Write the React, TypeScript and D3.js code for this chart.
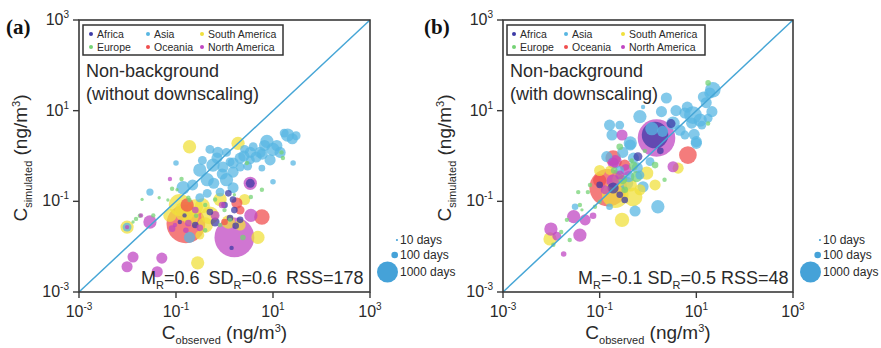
import React from "react";
import * as d3 from "d3";

// ---------- data ----------
const REGIONS = ["Africa", "Asia", "South America", "Europe", "Oceania", "North America"];
const REGION_COLORS = ["#3d3aa6", "#58b6e2", "#f0e03c", "#74d274", "#f04e4e", "#c046c2"];

const TICK_VALUES = [1e-3, 1e-1, 1e1, 1e3];
const TICK_EXPONENTS = ["-3", "-1", "1", "3"];

const SIZE_LEGEND_DAYS = [10, 100, 1000];
const SIZE_LEGEND_LABELS = ["10 days", "100 days", "1000 days"];

// [observed, simulated, days]
const aAfrica = [
  [3.4, 0.25, 180], [1.4, 0.0094, 44], [1.3, 0.043, 100], [0.64, 0.035, 180], [1.0, 0.083, 100],
  [2.1, 0.039, 100], [0.15, 0.049, 44], [0.25, 0.03, 100], [0.5, 0.058, 100], [1.7, 0.029, 100],
  [1.2, 0.15, 100], [1.6, 0.064, 100], [1.5, 0.11, 100], [0.12, 0.035, 44],
];
const aAsia = [
  [20, 2.9, 400], [25, 2.4, 280], [17, 3.2, 180], [7.5, 2.1, 400], [10, 1.4, 400], [5.4, 1.2, 280],
  [14, 1.2, 280], [8.7, 0.82, 280], [3.4, 1.2, 280], [2.1, 0.9, 280], [1.5, 0.7, 280], [1.1, 1.2, 180],
  [0.93, 0.57, 280], [3.9, 1.6, 180], [0.73, 1.2, 280], [0.5, 1.4, 180], [0.31, 0.49, 400],
  [0.58, 0.63, 400], [1.3, 0.74, 180], [1.5, 0.44, 280], [2.1, 0.57, 180], [3.4, 0.82, 180],
  [0.14, 0.2, 400], [0.44, 0.3, 400], [0.22, 0.23, 280], [1.1, 0.3, 400], [1.5, 0.2, 280],
  [0.029, 0.16, 120], [0.1, 0.7, 70], [26, 0.7, 70], [10, 0.27, 70], [0.19, 0.016, 280],
  [0.44, 0.15, 180], [0.81, 0.16, 180], [0.31, 0.12, 180], [5.9, 0.54, 100], [0.0098, 0.027, 180],
  [6.7, 1.7, 280], [2.6, 1.4, 180], [0.7, 0.9, 280], [2.5, 1.0, 280], [4.5, 0.95, 280],
  [6, 1.1, 280], [12, 1.7, 280], [30, 2.8, 180], [0.35, 0.8, 180], [0.9, 0.4, 280], [3, 0.6, 180],
  [0.6, 0.25, 280],
];
const aSouthAmerica = [
  [0.19, 1.6, 400], [1.9, 1.9, 400], [0.0098, 0.027, 400], [0.28, 0.0044, 400], [4.9, 0.016, 400],
  [0.12, 0.083, 1100], [0.5, 0.049, 711], [0.25, 0.075, 544], [1.2, 0.035, 400], [2.1, 0.03, 280],
  [0.81, 0.11, 400], [0.4, 0.03, 544], [0.31, 0.018, 180], [0.075, 0.049, 400], [2.6, 0.11, 280],
  [0.15, 0.06, 900], [0.2, 0.045, 600], [0.35, 0.08, 500],
];
const aEurope = [
  [0.13, 0.31, 44], [0.083, 0.19, 44], [0.02, 0.11, 25], [0.045, 0.12, 25], [0.105, 0.18, 25],
  [0.015, 0.041, 44], [0.018, 0.048, 44], [0.013, 0.035, 25], [0.034, 0.049, 44], [0.26, 0.048, 44],
  [0.4, 0.083, 44], [0.64, 0.11, 44], [1.0, 0.064, 44], [2.4, 0.016, 70], [3.5, 0.125, 44],
  [2.9, 0.7, 44], [16, 0.9, 44], [15, 1.2, 44], [5.9, 0.18, 44], [1.6, 0.14, 25], [0.81, 0.03, 44],
  [0.4, 0.023, 44], [0.068, 0.107, 25], [0.19, 0.107, 44], [1.3, 0.039, 44], [0.18, 0.12, 44],
];
const aOceania = [
  [0.16, 0.032, 3400], [0.17, 0.083, 400], [5.9, 0.045, 544], [1.8, 0.092, 280], [2.1, 0.064, 180],
  [1.0, 0.035, 100],
];
const aNorthAmerica = [
  [0.075, 0.31, 44], [0.029, 0.035, 400], [0.0098, 0.027, 44], [0.019, 0.049, 44], [0.013, 0.0059, 280],
  [0.0098, 0.0036, 280], [0.051, 0.0056, 280], [0.041, 0.0028, 280], [1.6, 0.016, 3600],
  [3.5, 0.049, 400], [0.18, 0.033, 100], [0.25, 0.064, 100], [3.4, 0.25, 400], [0.31, 0.026, 100],
  [0.89, 0.083, 100], [0.64, 0.049, 180], [0.095, 0.03, 44], [0.16, 0.023, 70], [0.083, 0.025, 100],
];

const bAfrica = [
  [0.62, 0.97, 180], [1.4, 2.9, 1600], [0.19, 0.197, 280], [3.0, 5.2, 180], [0.33, 0.107, 100],
  [1.8, 1.3, 100], [0.1, 0.23, 100], [0.26, 0.14, 100],
];
const bAsia = [
  [0.16, 4.8, 280], [0.26, 4.8, 180], [0.18, 2.9, 280], [2.4, 19, 280], [5.8, 8.9, 280], [8.0, 5.3, 280],
  [10, 1.9, 280], [12, 6.2, 400], [19, 24.5, 280], [22, 29, 544], [14, 20, 280], [16, 15, 280],
  [21, 9.5, 280], [13, 4.8, 180], [8.5, 8.0, 711], [3.3, 5.3, 400], [0.68, 7.4, 400], [1.9, 9.5, 280],
  [0.79, 12, 44], [0.43, 1.75, 280], [0.14, 0.97, 280], [1.6, 0.076, 400], [0.031, 0.076, 100],
  [0.16, 0.076, 100], [0.43, 1.94, 400], [0.36, 0.25, 400], [0.79, 0.21, 280], [0.54, 0.061, 280],
  [10, 2.07, 280], [4.6, 3.7, 280], [5.8, 2.9, 180], [1.1, 0.75, 180], [0.68, 0.38, 180],
  [0.26, 0.48, 180], [17.5, 6.8, 180], [1.2, 4, 400], [2, 3.5, 280], [3.8, 10, 280], [6.5, 12, 280],
  [9, 3, 280], [0.3, 1.2, 280], [0.5, 0.9, 280], [0.4, 0.35, 280], [0.6, 0.55, 280],
];
const bSouthAmerica = [
  [0.21, 0.14, 1600], [0.49, 0.125, 800], [0.29, 0.039, 470], [0.0094, 0.0148, 400], [4.2, 0.54, 280],
  [0.94, 0.42, 400], [0.1, 0.48, 280], [0.43, 0.23, 400], [0.68, 0.18, 280], [1.4, 0.23, 280],
  [0.16, 0.48, 180], [0.25, 0.3, 400],
];
const bEurope = [
  [17.5, 41, 70], [17.5, 5.2, 44], [0.036, 0.16, 44], [0.057, 0.16, 44], [0.039, 0.083, 44],
  [0.043, 0.065, 25], [0.021, 0.039, 44], [0.016, 0.021, 44], [0.011, 0.011, 44], [0.08, 0.076, 44],
  [0.1, 0.098, 44], [0.26, 1.6, 100], [0.58, 0.35, 280], [0.86, 1.3, 44], [1.4, 0.63, 100],
  [2.2, 0.3, 44], [0.33, 0.18, 100], [0.2, 0.48, 100], [0.063, 0.23, 44], [0.024, 0.014, 44],
  [0.46, 0.8, 44], [0.3, 0.3, 180], [0.5, 0.6, 180],
];
const bOceania = [
  [0.15, 0.2, 3200], [6.7, 1.05, 711], [0.19, 0.9, 544], [0.33, 0.63, 280], [0.1, 0.29, 400],
];
const bNorthAmerica = [
  [1.5, 2.5, 3200], [0.29, 2.9, 280], [3.3, 0.58, 280], [0.19, 0.7, 280], [0.21, 0.75, 400],
  [0.029, 0.046, 400], [0.05, 0.039, 280], [0.039, 0.018, 400], [0.0098, 0.0245, 400],
  [0.013, 0.017, 180], [0.018, 0.0069, 70], [0.073, 0.048, 100], [0.19, 0.28, 400],
  [0.13, 0.18, 180], [0.26, 0.38, 180], [0.35, 0.5, 280],
];

const statsA = ["0.6", "0.6", "178"];
const statsB = ["-0.1", "0.5", "48"];

// ---------- layout ----------
const FONT = "'Liberation Sans', Arial, sans-serif";
const TEXT = "#2a2a2a";
const Y0 = 20;
const Y1 = 292;

const PANELS = [
  {
    tag: "(a)", tagX: 6, x0: 79, x1: 370, title2: "(without downscaling)",
    data: [aAfrica, aAsia, aSouthAmerica, aEurope, aOceania, aNorthAmerica],
    stats: statsA, statsX: 141, gap: 9,
    legendBoxW: 200, legendDots: [8, 65, 119],
  },
  {
    tag: "(b)", tagX: 424, x0: 503, x1: 793, title2: "(with downscaling)",
    data: [bAfrica, bAsia, bSouthAmerica, bEurope, bOceania, bNorthAmerica],
    stats: statsB, statsX: 578, gap: 5,
    legendBoxW: 198, legendDots: [7, 59, 116],
  },
];

const rScale = d3.scaleSqrt().domain([0, 1000]).range([0, 10.5]);

function Panel({ p }: { p: any }) {
  const x = d3.scaleLog().domain([1e-3, 1e3]).range([p.x0, p.x1]);
  const y = d3.scaleLog().domain([1e-3, 1e3]).range([Y1, Y0]);
  const pts: any[] = [];
  p.data.forEach((arr: number[][], ri: number) => {
    arr.forEach((d) => pts.push({ obs: d[0], sim: d[1], days: d[2], color: REGION_COLORS[ri] }));
  });
  pts.sort((a, b) => b.days - a.days);
  const cx = (p.x0 + p.x1) / 2;
  const cy = (Y0 + Y1) / 2;
  const lx = p.x0 + 4;
  const ly = 25;
  const legendTextX = p.x1 + 30;
  const legendRows = [240, 255, 272];
  return (
    <g>
      <text x={p.tagX} y={34} fontFamily="'Liberation Serif', 'Times New Roman', serif" fontWeight="bold" fontSize={21} fill="#111">{p.tag}</text>
      <g>
        {pts.map((d, i) => (
          <circle key={i} cx={x(d.obs)} cy={y(d.sim)} r={Math.max(1.1, rScale(d.days))} fill={d.color} fillOpacity={0.74} />
        ))}
      </g>
      <line x1={x(1e-3)} y1={y(1e-3)} x2={x(1e3)} y2={y(1e3)} stroke="#46a6d6" strokeWidth={1.5} />
      <rect x={p.x0} y={Y0} width={p.x1 - p.x0} height={Y1 - Y0} fill="none" stroke="#3a3a3a" strokeWidth={1.6} />
      {TICK_VALUES.map((v, i) => (
        <g key={"t" + i}>
          <line x1={x(v)} x2={x(v)} y1={Y1} y2={Y1 + 6} stroke="#3a3a3a" strokeWidth={1.4} />
          <text x={x(v)} y={317} textAnchor="middle" fontFamily={FONT} fontSize={16} fill={TEXT}>
            10<tspan dy={-7} fontSize={10}>{TICK_EXPONENTS[i]}</tspan>
          </text>
          <line x1={p.x0 - 6} x2={p.x0} y1={y(v)} y2={y(v)} stroke="#3a3a3a" strokeWidth={1.4} />
          <text x={p.x0 - 10} y={y(v) + 5} textAnchor="end" fontFamily={FONT} fontSize={16} fill={TEXT}>
            10<tspan dy={-7} fontSize={10}>{TICK_EXPONENTS[i]}</tspan>
          </text>
        </g>
      ))}
      <text x={cx} y={339} textAnchor="middle" fontFamily={FONT} fontSize={19} fill={TEXT}>
        C<tspan dy={5} fontSize={11}>observed</tspan><tspan dy={-5}> (ng/m</tspan><tspan dy={-7} fontSize={11}>3</tspan><tspan dy={7}>)</tspan>
      </text>
      <text transform={`translate(${p.x0 - 52},${cy + 2}) rotate(-90)`} textAnchor="middle" fontFamily={FONT} fontSize={19} fill={TEXT}>
        C<tspan dy={5} fontSize={11}>simulated</tspan><tspan dy={-5}> (ng/m</tspan><tspan dy={-7} fontSize={11}>3</tspan><tspan dy={7}>)</tspan>
      </text>
      <rect x={lx} y={ly} width={p.legendBoxW} height={30} fill="#fff" stroke="#333" strokeWidth={1.5} />
      {REGIONS.map((name, i) => {
        const col = i % 3;
        const row = Math.floor(i / 3);
        const dx = lx + p.legendDots[col];
        const ty = ly + 12.5 + row * 13;
        return (
          <g key={name}>
            <circle cx={dx} cy={ty - 3.5} r={2} fill={REGION_COLORS[i]} />
            <text x={dx + 6} y={ty} fontFamily={FONT} fontSize={10.5} fill={TEXT}>{name}</text>
          </g>
        );
      })}
      <text x={p.x0 + 7} y={77} fontFamily={FONT} fontSize={18} fill={TEXT}>Non-background</text>
      <text x={p.x0 + 7} y={100} fontFamily={FONT} fontSize={18} fill={TEXT}>{p.title2}</text>
      <text x={p.statsX} y={284} fontFamily={FONT} fontSize={18} fill={TEXT}>
        M<tspan dy={5} fontSize={11}>R</tspan><tspan dy={-5}>={p.stats[0]}</tspan>
        <tspan dx={p.gap}>SD</tspan><tspan dy={5} fontSize={11}>R</tspan><tspan dy={-5}>={p.stats[1]}</tspan>
        <tspan dx={p.gap}>RSS={p.stats[2]}</tspan>
      </text>
      {SIZE_LEGEND_DAYS.map((d, i) => {
        const r = rScale(d);
        return (
          <g key={"s" + i}>
            <circle cx={legendTextX - 2 - r} cy={legendRows[i]} r={Math.max(1, r)} fill="#45a2d8" />
            <text x={legendTextX} y={legendRows[i] + 4} fontFamily={FONT} fontSize={12} fill={TEXT}>{SIZE_LEGEND_LABELS[i]}</text>
          </g>
        );
      })}
    </g>
  );
}

export default function App() {
  return (
    <svg width={881} height={348} style={{ position: "absolute", left: 0, top: 0, background: "#fff" }}>
      <rect width={881} height={348} fill="#fff" />
      {PANELS.map((p) => (
        <Panel key={p.tag} p={p} />
      ))}
    </svg>
  );
}
